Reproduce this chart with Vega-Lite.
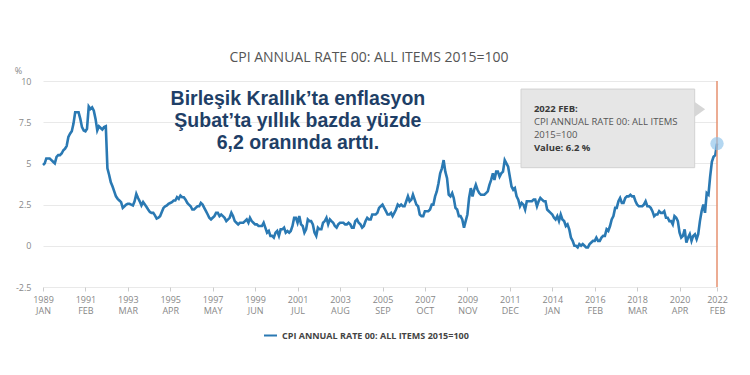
{
  "$schema": "https://vega.github.io/schema/vega-lite/v6.json",
  "width": 674,
  "height": 206,
  "autosize": {"type": "none"},
  "padding": {"left": 43, "top": 81, "right": 33, "bottom": 88},
  "background": "white",
  "config": {
    "view": {"stroke": null},
    "font": "Open Sans"
  },
  "title": {
    "text": "CPI ANNUAL RATE 00: ALL ITEMS 2015=100",
    "font": "Open Sans",
    "fontSize": 14,
    "fontWeight": "normal",
    "color": "#555555",
    "anchor": "middle",
    "offset": 1,
    "dx": -11
  },
  "layer": [
    {
      "data": {
        "values": [
{"date":"1989-01","value":4.9},{"date":"1989-02","value":5.0},{"date":"1989-03","value":5.3},{"date":"1989-04","value":5.3},{"date":"1989-05","value":5.3},{"date":"1989-06","value":5.2},{"date":"1989-07","value":5.1},{"date":"1989-08","value":5.0},{"date":"1989-09","value":5.4},{"date":"1989-10","value":5.5},{"date":"1989-11","value":5.5},{"date":"1989-12","value":5.6},
{"date":"1990-01","value":5.8},{"date":"1990-02","value":5.9},{"date":"1990-03","value":6.05},{"date":"1990-04","value":6.6},{"date":"1990-05","value":6.8},{"date":"1990-06","value":6.95},{"date":"1990-07","value":7.4},{"date":"1990-08","value":8.1},{"date":"1990-09","value":8.1},{"date":"1990-10","value":8.1},{"date":"1990-11","value":7.7},{"date":"1990-12","value":7.2},
{"date":"1991-01","value":7.0},{"date":"1991-02","value":6.95},{"date":"1991-03","value":7.1},{"date":"1991-04","value":8.45},{"date":"1991-05","value":8.3},{"date":"1991-06","value":8.4},{"date":"1991-07","value":8.2},{"date":"1991-08","value":7.7},{"date":"1991-09","value":7.0},{"date":"1991-10","value":7.25},{"date":"1991-11","value":7.15},{"date":"1991-12","value":7.05},
{"date":"1992-01","value":7.2},{"date":"1992-02","value":7.25},{"date":"1992-03","value":4.7},{"date":"1992-04","value":4.3},{"date":"1992-05","value":3.85},{"date":"1992-06","value":3.6},{"date":"1992-07","value":3.3},{"date":"1992-08","value":3.0},{"date":"1992-09","value":2.85},{"date":"1992-10","value":2.75},{"date":"1992-11","value":2.65},{"date":"1992-12","value":2.3},
{"date":"1993-01","value":2.4},{"date":"1993-02","value":2.5},{"date":"1993-03","value":2.55},{"date":"1993-04","value":2.55},{"date":"1993-05","value":2.5},{"date":"1993-06","value":2.45},{"date":"1993-07","value":2.7},{"date":"1993-08","value":3.15},{"date":"1993-09","value":2.9},{"date":"1993-10","value":2.7},{"date":"1993-11","value":2.45},{"date":"1993-12","value":2.65},
{"date":"1994-01","value":2.5},{"date":"1994-02","value":2.35},{"date":"1994-03","value":2.2},{"date":"1994-04","value":2.05},{"date":"1994-05","value":2.0},{"date":"1994-06","value":2.0},{"date":"1994-07","value":1.85},{"date":"1994-08","value":1.65},{"date":"1994-09","value":1.7},{"date":"1994-10","value":1.8},{"date":"1994-11","value":2.05},{"date":"1994-12","value":2.3},
{"date":"1995-01","value":2.4},{"date":"1995-02","value":2.45},{"date":"1995-03","value":2.55},{"date":"1995-04","value":2.6},{"date":"1995-05","value":2.65},{"date":"1995-06","value":2.75},{"date":"1995-07","value":2.75},{"date":"1995-08","value":2.95},{"date":"1995-09","value":2.85},{"date":"1995-10","value":3.05},{"date":"1995-11","value":2.95},{"date":"1995-12","value":2.95},
{"date":"1996-01","value":2.8},{"date":"1996-02","value":2.6},{"date":"1996-03","value":2.5},{"date":"1996-04","value":2.4},{"date":"1996-05","value":2.2},{"date":"1996-06","value":2.2},{"date":"1996-07","value":2.3},{"date":"1996-08","value":2.4},{"date":"1996-09","value":2.4},{"date":"1996-10","value":2.6},{"date":"1996-11","value":2.5},{"date":"1996-12","value":2.3},
{"date":"1997-01","value":2.1},{"date":"1997-02","value":1.9},{"date":"1997-03","value":1.7},{"date":"1997-04","value":1.6},{"date":"1997-05","value":1.7},{"date":"1997-06","value":1.8},{"date":"1997-07","value":2.0},{"date":"1997-08","value":2.0},{"date":"1997-09","value":1.8},{"date":"1997-10","value":1.9},{"date":"1997-11","value":1.8},{"date":"1997-12","value":1.7},
{"date":"1998-01","value":1.5},{"date":"1998-02","value":1.6},{"date":"1998-03","value":1.7},{"date":"1998-04","value":2.0},{"date":"1998-05","value":1.8},{"date":"1998-06","value":1.5},{"date":"1998-07","value":1.4},{"date":"1998-08","value":1.3},{"date":"1998-09","value":1.4},{"date":"1998-10","value":1.4},{"date":"1998-11","value":1.4},{"date":"1998-12","value":1.5},
{"date":"1999-01","value":1.6},{"date":"1999-02","value":1.4},{"date":"1999-03","value":1.7},{"date":"1999-04","value":1.5},{"date":"1999-05","value":1.4},{"date":"1999-06","value":1.3},{"date":"1999-07","value":1.3},{"date":"1999-08","value":1.2},{"date":"1999-09","value":1.2},{"date":"1999-10","value":1.2},{"date":"1999-11","value":1.4},{"date":"1999-12","value":1.1},
{"date":"2000-01","value":0.8},{"date":"2000-02","value":0.9},{"date":"2000-03","value":0.6},{"date":"2000-04","value":0.6},{"date":"2000-05","value":0.5},{"date":"2000-06","value":0.8},{"date":"2000-07","value":0.9},{"date":"2000-08","value":0.6},{"date":"2000-09","value":1.0},{"date":"2000-10","value":1.0},{"date":"2000-11","value":1.1},{"date":"2000-12","value":0.8},
{"date":"2001-01","value":0.9},{"date":"2001-02","value":0.8},{"date":"2001-03","value":0.9},{"date":"2001-04","value":1.2},{"date":"2001-05","value":1.7},{"date":"2001-06","value":1.7},{"date":"2001-07","value":1.4},{"date":"2001-08","value":1.8},{"date":"2001-09","value":1.3},{"date":"2001-10","value":1.2},{"date":"2001-11","value":0.8},{"date":"2001-12","value":1.0},
{"date":"2002-01","value":1.6},{"date":"2002-02","value":1.5},{"date":"2002-03","value":1.5},{"date":"2002-04","value":1.3},{"date":"2002-05","value":0.8},{"date":"2002-06","value":0.6},{"date":"2002-07","value":1.1},{"date":"2002-08","value":1.0},{"date":"2002-09","value":1.0},{"date":"2002-10","value":1.4},{"date":"2002-11","value":1.5},{"date":"2002-12","value":1.7},
{"date":"2003-01","value":1.3},{"date":"2003-02","value":1.6},{"date":"2003-03","value":1.5},{"date":"2003-04","value":1.4},{"date":"2003-05","value":1.2},{"date":"2003-06","value":1.1},{"date":"2003-07","value":1.3},{"date":"2003-08","value":1.4},{"date":"2003-09","value":1.4},{"date":"2003-10","value":1.4},{"date":"2003-11","value":1.3},{"date":"2003-12","value":1.3},
{"date":"2004-01","value":1.4},{"date":"2004-02","value":1.3},{"date":"2004-03","value":1.1},{"date":"2004-04","value":1.1},{"date":"2004-05","value":1.5},{"date":"2004-06","value":1.6},{"date":"2004-07","value":1.4},{"date":"2004-08","value":1.3},{"date":"2004-09","value":1.1},{"date":"2004-10","value":1.2},{"date":"2004-11","value":1.5},{"date":"2004-12","value":1.7},
{"date":"2005-01","value":1.6},{"date":"2005-02","value":1.6},{"date":"2005-03","value":1.9},{"date":"2005-04","value":1.9},{"date":"2005-05","value":1.9},{"date":"2005-06","value":2.0},{"date":"2005-07","value":2.3},{"date":"2005-08","value":2.4},{"date":"2005-09","value":2.5},{"date":"2005-10","value":2.3},{"date":"2005-11","value":2.1},{"date":"2005-12","value":1.9},
{"date":"2006-01","value":1.9},{"date":"2006-02","value":2.0},{"date":"2006-03","value":1.8},{"date":"2006-04","value":2.0},{"date":"2006-05","value":2.2},{"date":"2006-06","value":2.5},{"date":"2006-07","value":2.4},{"date":"2006-08","value":2.5},{"date":"2006-09","value":2.4},{"date":"2006-10","value":2.4},{"date":"2006-11","value":2.7},{"date":"2006-12","value":3.0},
{"date":"2007-01","value":2.7},{"date":"2007-02","value":2.8},{"date":"2007-03","value":3.1},{"date":"2007-04","value":2.8},{"date":"2007-05","value":2.5},{"date":"2007-06","value":2.4},{"date":"2007-07","value":1.9},{"date":"2007-08","value":1.8},{"date":"2007-09","value":1.8},{"date":"2007-10","value":2.1},{"date":"2007-11","value":2.1},{"date":"2007-12","value":2.1},
{"date":"2008-01","value":2.2},{"date":"2008-02","value":2.5},{"date":"2008-03","value":2.5},{"date":"2008-04","value":3.0},{"date":"2008-05","value":3.3},{"date":"2008-06","value":3.8},{"date":"2008-07","value":4.4},{"date":"2008-08","value":4.7},{"date":"2008-09","value":5.2},{"date":"2008-10","value":4.5},{"date":"2008-11","value":4.1},{"date":"2008-12","value":3.1},
{"date":"2009-01","value":3.0},{"date":"2009-02","value":3.2},{"date":"2009-03","value":2.9},{"date":"2009-04","value":2.3},{"date":"2009-05","value":2.2},{"date":"2009-06","value":1.8},{"date":"2009-07","value":1.8},{"date":"2009-08","value":1.6},{"date":"2009-09","value":1.1},{"date":"2009-10","value":1.5},{"date":"2009-11","value":1.9},{"date":"2009-12","value":2.9},
{"date":"2010-01","value":3.5},{"date":"2010-02","value":3.0},{"date":"2010-03","value":3.4},{"date":"2010-04","value":3.7},{"date":"2010-05","value":3.4},{"date":"2010-06","value":3.2},{"date":"2010-07","value":3.1},{"date":"2010-08","value":3.1},{"date":"2010-09","value":3.1},{"date":"2010-10","value":3.2},{"date":"2010-11","value":3.3},{"date":"2010-12","value":3.7},
{"date":"2011-01","value":4.0},{"date":"2011-02","value":4.4},{"date":"2011-03","value":4.0},{"date":"2011-04","value":4.5},{"date":"2011-05","value":4.5},{"date":"2011-06","value":4.2},{"date":"2011-07","value":4.4},{"date":"2011-08","value":4.5},{"date":"2011-09","value":5.2},{"date":"2011-10","value":5.0},{"date":"2011-11","value":4.8},{"date":"2011-12","value":4.2},
{"date":"2012-01","value":3.6},{"date":"2012-02","value":3.4},{"date":"2012-03","value":3.5},{"date":"2012-04","value":3.0},{"date":"2012-05","value":2.8},{"date":"2012-06","value":2.4},{"date":"2012-07","value":2.6},{"date":"2012-08","value":2.5},{"date":"2012-09","value":2.2},{"date":"2012-10","value":2.7},{"date":"2012-11","value":2.7},{"date":"2012-12","value":2.7},
{"date":"2013-01","value":2.7},{"date":"2013-02","value":2.8},{"date":"2013-03","value":2.8},{"date":"2013-04","value":2.4},{"date":"2013-05","value":2.7},{"date":"2013-06","value":2.9},{"date":"2013-07","value":2.8},{"date":"2013-08","value":2.7},{"date":"2013-09","value":2.7},{"date":"2013-10","value":2.2},{"date":"2013-11","value":2.1},{"date":"2013-12","value":2.0},
{"date":"2014-01","value":1.9},{"date":"2014-02","value":1.7},{"date":"2014-03","value":1.6},{"date":"2014-04","value":1.8},{"date":"2014-05","value":1.5},{"date":"2014-06","value":1.9},{"date":"2014-07","value":1.6},{"date":"2014-08","value":1.5},{"date":"2014-09","value":1.2},{"date":"2014-10","value":1.3},{"date":"2014-11","value":1.0},{"date":"2014-12","value":0.5},
{"date":"2015-01","value":0.3},{"date":"2015-02","value":0.0},{"date":"2015-03","value":0.0},{"date":"2015-04","value":-0.1},{"date":"2015-05","value":0.1},{"date":"2015-06","value":0.0},{"date":"2015-07","value":0.1},{"date":"2015-08","value":0.0},{"date":"2015-09","value":-0.1},{"date":"2015-10","value":-0.1},{"date":"2015-11","value":0.1},{"date":"2015-12","value":0.2},
{"date":"2016-01","value":0.3},{"date":"2016-02","value":0.3},{"date":"2016-03","value":0.5},{"date":"2016-04","value":0.3},{"date":"2016-05","value":0.3},{"date":"2016-06","value":0.5},{"date":"2016-07","value":0.6},{"date":"2016-08","value":0.6},{"date":"2016-09","value":1.0},{"date":"2016-10","value":0.9},{"date":"2016-11","value":1.2},{"date":"2016-12","value":1.6},
{"date":"2017-01","value":1.8},{"date":"2017-02","value":2.3},{"date":"2017-03","value":2.3},{"date":"2017-04","value":2.7},{"date":"2017-05","value":2.9},{"date":"2017-06","value":2.6},{"date":"2017-07","value":2.6},{"date":"2017-08","value":2.9},{"date":"2017-09","value":3.0},{"date":"2017-10","value":3.0},{"date":"2017-11","value":3.1},{"date":"2017-12","value":3.0},
{"date":"2018-01","value":3.0},{"date":"2018-02","value":2.7},{"date":"2018-03","value":2.5},{"date":"2018-04","value":2.4},{"date":"2018-05","value":2.4},{"date":"2018-06","value":2.4},{"date":"2018-07","value":2.5},{"date":"2018-08","value":2.7},{"date":"2018-09","value":2.4},{"date":"2018-10","value":2.4},{"date":"2018-11","value":2.3},{"date":"2018-12","value":2.1},
{"date":"2019-01","value":1.8},{"date":"2019-02","value":1.9},{"date":"2019-03","value":1.9},{"date":"2019-04","value":2.1},{"date":"2019-05","value":2.0},{"date":"2019-06","value":2.0},{"date":"2019-07","value":2.1},{"date":"2019-08","value":1.7},{"date":"2019-09","value":1.7},{"date":"2019-10","value":1.5},{"date":"2019-11","value":1.5},{"date":"2019-12","value":1.3},
{"date":"2020-01","value":1.8},{"date":"2020-02","value":1.7},{"date":"2020-03","value":1.5},{"date":"2020-04","value":0.8},{"date":"2020-05","value":0.5},{"date":"2020-06","value":0.6},{"date":"2020-07","value":1.0},{"date":"2020-08","value":0.2},{"date":"2020-09","value":0.5},{"date":"2020-10","value":0.7},{"date":"2020-11","value":0.3},{"date":"2020-12","value":0.6},
{"date":"2021-01","value":0.7},{"date":"2021-02","value":0.4},{"date":"2021-03","value":0.7},{"date":"2021-04","value":1.5},{"date":"2021-05","value":2.1},{"date":"2021-06","value":2.5},{"date":"2021-07","value":2.0},{"date":"2021-08","value":3.2},{"date":"2021-09","value":3.1},{"date":"2021-10","value":4.2},{"date":"2021-11","value":5.1},{"date":"2021-12","value":5.4},
{"date":"2022-01","value":5.5},{"date":"2022-02","value":6.2}
        ],
        "format": {"parse": {"date": "utc:'%Y-%m'"}}
      },
      "mark": {"type": "line", "strokeWidth": 2.6, "interpolate": "linear"},
      "encoding": {
        "x": {
          "field": "date",
          "type": "temporal",
          "scale": {
            "type": "utc",
            "domain": [
              {"year": 1989, "month": 1, "date": 1, "utc": true},
              {"year": 2022, "month": 2, "date": 1, "utc": true}
            ]
          },
          "axis": {
            "title": null,
            "grid": false,
            "domain": false,
            "ticks": true,
            "tickSize": 4,
            "tickColor": "#cccccc",
            "labelPadding": 4,
            "labelFont": "Open Sans",
            "labelFontSize": 9,
            "labelColor": "#888888",
            "labelLineHeight": 11,
            "labelBaseline": "top",
            "labelOverlap": false,
            "labelFlush": false,
            "values": [
              {"year": 1989, "month": 1, "date": 1, "utc": true},
              {"year": 1991, "month": 2, "date": 1, "utc": true},
              {"year": 1993, "month": 3, "date": 1, "utc": true},
              {"year": 1995, "month": 4, "date": 1, "utc": true},
              {"year": 1997, "month": 5, "date": 1, "utc": true},
              {"year": 1999, "month": 6, "date": 1, "utc": true},
              {"year": 2001, "month": 7, "date": 1, "utc": true},
              {"year": 2003, "month": 8, "date": 1, "utc": true},
              {"year": 2005, "month": 9, "date": 1, "utc": true},
              {"year": 2007, "month": 10, "date": 1, "utc": true},
              {"year": 2009, "month": 11, "date": 1, "utc": true},
              {"year": 2011, "month": 12, "date": 1, "utc": true},
              {"year": 2014, "month": 1, "date": 1, "utc": true},
              {"year": 2016, "month": 2, "date": 1, "utc": true},
              {"year": 2018, "month": 3, "date": 1, "utc": true},
              {"year": 2020, "month": 4, "date": 1, "utc": true},
              {"year": 2022, "month": 2, "date": 1, "utc": true}
            ],
            "labelExpr": "[utcFormat(datum.value, '%Y'), upper(utcFormat(datum.value, '%b'))]"
          }
        },
        "y": {
          "field": "value",
          "type": "quantitative",
          "scale": {"domain": [-2.5, 10], "nice": false, "zero": false},
          "axis": {
            "title": "%",
            "titleAngle": 0,
            "titleX": -25,
            "titleY": -11,
            "titleAlign": "center",
            "titleBaseline": "middle",
            "titleFont": "Open Sans",
            "titleFontSize": 9,
            "titleFontWeight": "normal",
            "titleColor": "#888888",
            "values": [-2.5, 0, 2.5, 5, 7.5, 10],
            "labelExpr": "toString(datum.value)",
            "domain": false,
            "ticks": false,
            "labelPadding": 12,
            "labelFont": "Open Sans",
            "labelFontSize": 9,
            "labelColor": "#888888",
            "gridColor": "#e9e9e9",
            "gridWidth": 1
          }
        },
        "color": {
          "datum": "CPI ANNUAL RATE 00: ALL ITEMS 2015=100",
          "type": "nominal",
          "scale": {"range": ["#2a79b3"]},
          "legend": {
            "title": null,
            "orient": "none",
            "legendX": 220,
            "legendY": 247,
            "symbolType": "stroke",
            "symbolSize": 169,
            "symbolStrokeWidth": 2,
            "labelFont": "Open Sans",
            "labelFontSize": 9,
            "labelFontWeight": "bold",
            "labelColor": "#444444",
            "labelOffset": 4,
            "labelLimit": 400
          }
        }
      }
    },
    {
      "data": {"values": [{}]},
      "mark": {"type": "rule", "color": "#e6906f", "strokeWidth": 1.5},
      "encoding": {
        "x": {"datum": {"year": 2022, "month": 2, "date": 1, "utc": true}, "type": "temporal"}
      }
    },
    {
      "data": {"values": [{}]},
      "mark": {"type": "point", "filled": true, "size": 180, "color": "#8cc2ea", "opacity": 0.65, "strokeWidth": 0},
      "encoding": {
        "x": {"datum": {"year": 2022, "month": 2, "date": 1, "utc": true}, "type": "temporal"},
        "y": {"datum": 6.2, "type": "quantitative"}
      }
    },
    {
      "data": {"values": [{}]},
      "mark": {"type": "rect", "fill": "#e6e6e6", "stroke": "#d2d2d2", "strokeWidth": 1},
      "encoding": {
        "x": {"datum": {"year": 2012, "month": 6, "date": 19, "utc": true}, "type": "temporal"},
        "x2": {"datum": {"year": 2020, "month": 12, "date": 28, "utc": true}},
        "y": {"datum": 9.51, "type": "quantitative"},
        "y2": {"datum": 4.74}
      }
    },
    {
      "data": {"values": [{}]},
      "mark": {"type": "point", "filled": true, "shape": "M-0.7,-1L0.7,0L-0.7,1Z", "size": 220, "color": "#d6d6d6", "opacity": 1},
      "encoding": {
        "x": {"datum": {"year": 2021, "month": 4, "date": 1, "utc": true}, "type": "temporal"},
        "y": {"datum": 8.28, "type": "quantitative"}
      }
    },
    {
      "data": {"values": [{}]},
      "mark": {"type": "text", "align": "left", "baseline": "middle", "font": "Open Sans", "fontSize": 9.5, "fontWeight": "bold", "color": "#3a3a3a", "text": "2022 FEB:"},
      "encoding": {
        "x": {"datum": {"year": 2013, "month": 2, "date": 6, "utc": true}, "type": "temporal"},
        "y": {"datum": 8.3, "type": "quantitative"}
      }
    },
    {
      "data": {"values": [{}]},
      "mark": {"type": "text", "align": "left", "baseline": "middle", "font": "Open Sans", "fontSize": 9.5, "color": "#555555", "text": "CPI ANNUAL RATE 00: ALL ITEMS"},
      "encoding": {
        "x": {"datum": {"year": 2013, "month": 2, "date": 6, "utc": true}, "type": "temporal"},
        "y": {"datum": 7.51, "type": "quantitative"}
      }
    },
    {
      "data": {"values": [{}]},
      "mark": {"type": "text", "align": "left", "baseline": "middle", "font": "Open Sans", "fontSize": 9.5, "color": "#555555", "text": "2015=100"},
      "encoding": {
        "x": {"datum": {"year": 2013, "month": 2, "date": 6, "utc": true}, "type": "temporal"},
        "y": {"datum": 6.72, "type": "quantitative"}
      }
    },
    {
      "data": {"values": [{}]},
      "mark": {"type": "text", "align": "left", "baseline": "middle", "font": "Open Sans", "fontSize": 9.5, "fontWeight": "bold", "color": "#3a3a3a", "text": "Value: 6.2 %"},
      "encoding": {
        "x": {"datum": {"year": 2013, "month": 2, "date": 6, "utc": true}, "type": "temporal"},
        "y": {"datum": 5.93, "type": "quantitative"}
      }
    },
    {
      "data": {"values": [{}]},
      "mark": {
        "type": "text",
        "align": "center",
        "baseline": "alphabetic",
        "font": "Liberation Sans",
        "fontSize": 19.5,
        "fontWeight": "bold",
        "lineHeight": 22,
        "color": "#1f3f67",
        "text": ["Birleşik Krallık’ta enflasyon", "Şubat’ta yıllık bazda yüzde", "6,2 oranında arttı."]
      },
      "encoding": {
        "x": {"datum": {"year": 2001, "month": 7, "date": 7, "utc": true}, "type": "temporal"},
        "y": {"datum": 8.54, "type": "quantitative"}
      }
    }
  ]
}
